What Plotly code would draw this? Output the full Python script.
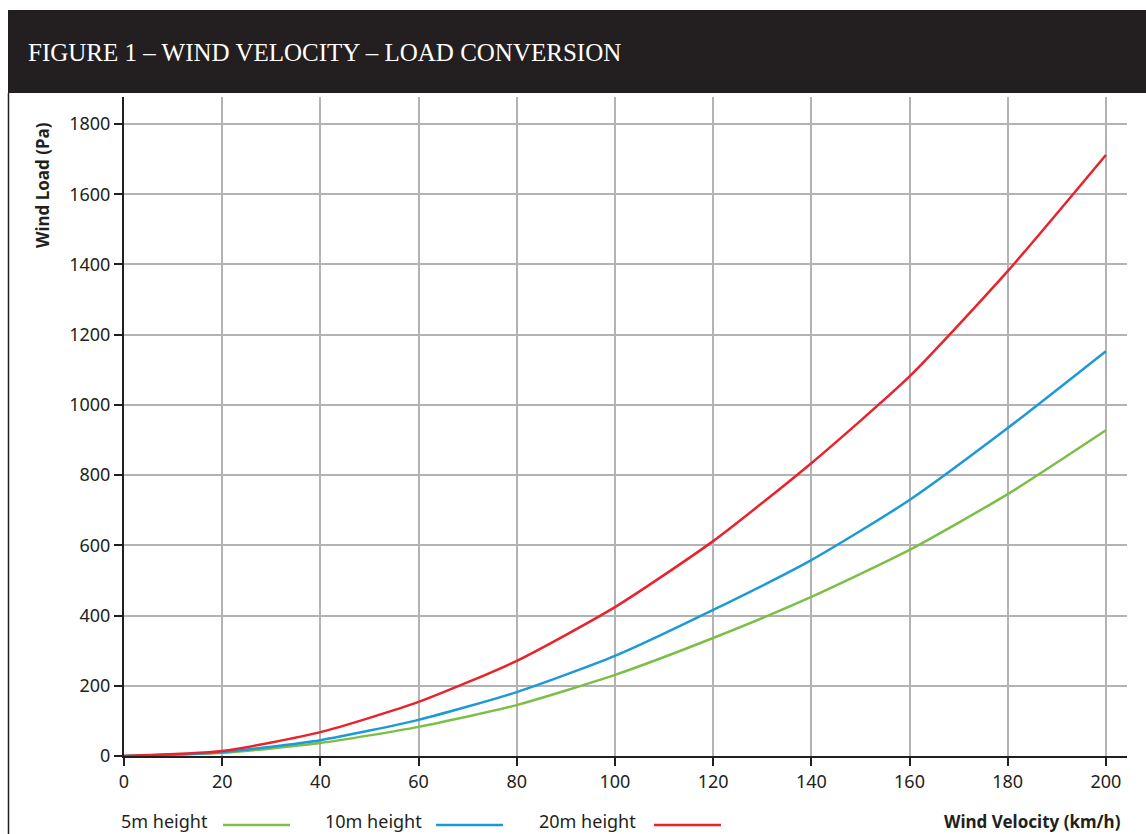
import plotly.graph_objects as go

# Wind velocity (km/h) and resulting wind load (Pa) at three heights
velocity = [0, 20, 40, 60, 80, 100, 120, 140, 160, 180, 200]
load_5m = [0, 9, 37, 83, 145, 231, 336, 453, 587, 746, 928]
load_10m = [0, 11, 45, 103, 182, 285, 416, 558, 729, 934, 1153]
load_20m = [0, 14, 68, 154, 271, 424, 612, 834, 1081, 1381, 1712]

x_ticks = [0, 20, 40, 60, 80, 100, 120, 140, 160, 180, 200]
y_ticks = [0, 200, 400, 600, 800, 1000, 1200, 1400, 1600, 1800]

series = [
    ("5m height", load_5m, "#7cbf48"),
    ("10m height", load_10m, "#1c9ad7"),
    ("20m height", load_20m, "#e8232b"),
]

INK = "#231f20"
GRID = "#b3b3b3"
FONT = "Noto Sans"
W, H = 1146, 834
ML, MR, MT, MB = 124, 19, 97, 78
PW, PH = W - ML - MR, H - MT - MB


def px(xp):
    return (xp - ML) / PW


def py(yp):
    return (H - MB - yp) / PH


fig = go.Figure()
for name, vals, col in series:
    fig.add_trace(go.Scatter(
        x=velocity, y=vals, mode="lines", name=name,
        line=dict(color=col, width=2.5, shape="spline", smoothing=0.6),
        showlegend=False,
    ))

shapes = [
    # title band
    dict(type="rect", xref="paper", yref="paper", x0=px(8), x1=px(W + 5),
         y0=py(93), y1=py(10), fillcolor=INK, line_width=0, layer="above"),
    # left frame rule
    dict(type="line", xref="paper", yref="paper", x0=px(8.5), x1=px(8.5),
         y0=py(93), y1=py(H + 5), line=dict(color=INK, width=1.5)),
]
annotations = [
    dict(text="FIGURE 1 – WIND VELOCITY – LOAD CONVERSION", xref="paper", yref="paper",
         x=px(26), y=py(52), xanchor="left", yanchor="middle", showarrow=False,
         font=dict(family="Liberation Serif", size=25, color="white")),
    dict(text="<b>Wind Load (Pa)</b>", xref="paper", yref="paper", x=px(43), y=py(185),
         xanchor="center", yanchor="middle", textangle=-90, showarrow=False,
         font=dict(family=FONT, size=17, color=INK)),
    dict(text="<b>Wind Velocity (km/h)</b>", xref="paper", yref="paper", x=px(1123), y=py(821),
         xanchor="right", yanchor="middle", showarrow=False,
         font=dict(family=FONT, size=17, color=INK)),
]

# legend: label followed by a line sample
legend_pos = [(119, 223, 290), (323, 436, 503), (537, 654, 721)]
for (name, _, col), (tx, l0, l1) in zip(series, legend_pos):
    annotations.append(dict(text=name, xref="paper", yref="paper", x=px(tx), y=py(821),
                            xanchor="left", yanchor="middle", showarrow=False,
                            font=dict(family=FONT, size=18, color=INK)))
    shapes.append(dict(type="line", xref="paper", yref="paper", x0=px(l0), x1=px(l1),
                       y0=py(825), y1=py(825), line=dict(color=col, width=2.5)))

axis_style = dict(showgrid=True, gridcolor=GRID, gridwidth=1.5,
                  zeroline=False, showline=True, linecolor=INK, linewidth=2,
                  ticks="outside", ticklen=8, tickwidth=1.5, tickcolor=INK,
                  tickfont=dict(family=FONT, size=18, color=INK), fixedrange=True)

fig.update_layout(
    width=W, height=H,
    margin=dict(l=ML, r=MR, t=MT, b=MB),
    paper_bgcolor="white", plot_bgcolor="white",
    font=dict(family=FONT, size=18, color=INK),
    shapes=shapes, annotations=annotations,
    xaxis=dict(range=[0, 204.3], tickvals=x_ticks, **axis_style),
    yaxis=dict(range=[0, 1877], tickvals=y_ticks, **axis_style),
)

fig.write_html("out.html")
